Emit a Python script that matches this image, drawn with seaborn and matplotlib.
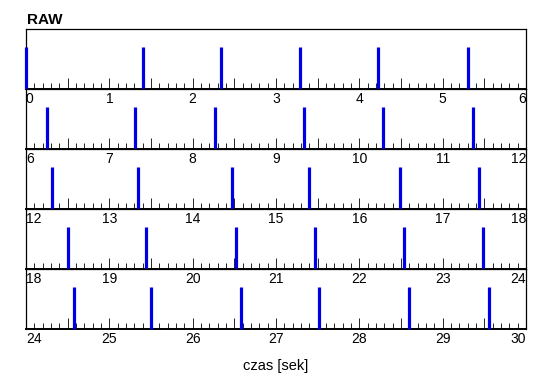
import matplotlib
matplotlib.use("Agg")
import matplotlib.pyplot as plt
import seaborn as sns
import numpy as np
from matplotlib.ticker import MultipleLocator

# event times (seconds), one list per 6-second row
row1 = [0.0, 1.40, 2.34, 3.29, 4.22, 5.31]
row2 = [6.25, 7.31, 8.27, 9.33, 10.28, 11.37]
row3 = [12.31, 13.34, 14.47, 15.40, 16.49, 17.43]
row4 = [18.50, 19.44, 20.52, 21.47, 22.54, 23.49]
row5 = [24.57, 25.50, 26.58, 27.52, 28.60, 29.55]
rows = [row1, row2, row3, row4, row5]
row_starts = [0, 6, 12, 18, 24]
row_span = 6

title = "RAW"
xlabel = "czas [sek]"

sns.set_theme(style="ticks")
plt.rcParams["font.family"] = ["Liberation Sans", "DejaVu Sans"]
plt.rcParams["text.color"] = "black"
plt.rcParams["xtick.color"] = "black"
plt.rcParams["xtick.labelcolor"] = "black"

W, H = 550, 389
fig = plt.figure(figsize=(W / 100, H / 100), dpi=100, facecolor="white")

left_px, right_px = 26, 526
top_px, panel_h = 29, 60

for i, (times, start) in enumerate(zip(rows, row_starts)):
    top = top_px + panel_h * i
    ax = fig.add_axes([left_px / W, 1 - (top + panel_h) / H,
                       (right_px - left_px) / W, panel_h / H])
    ax.patch.set_alpha(0)
    sns.rugplot(x=times, height=0.7, linewidth=2.3, color="#0000e8", ax=ax,
                expand_margins=False, clip_on=False, zorder=3)
    ax.set_xlim(start, start + row_span)
    ax.set_ylim(0, 1)
    ax.set_yticks([])
    ax.xaxis.set_minor_locator(MultipleLocator(0.1))
    ticks = np.arange(start, start + row_span + 0.01, 0.5)
    ax.set_xticks(ticks)
    ax.set_xticklabels([f"{t:g}" if t == int(t) else "" for t in ticks],
                       fontsize=10)
    ax.tick_params(axis="x", which="major", direction="in", length=8,
                   width=0.6, pad=2, colors="black")
    ax.tick_params(axis="x", which="minor", direction="in", length=4,
                   width=0.6, colors="black")
    labels = ax.get_xticklabels()
    labels[0].set_ha("left")
    labels[-1].set_ha("right")
    for s in ax.spines.values():
        s.set_linewidth(0.9)
        s.set_color("black")
    ax.spines["bottom"].set_linewidth(1.4)

fig.text(27 / W, 1 - 20 / H, title, fontsize=11, fontweight="bold",
         ha="left", va="center", color="black")
fig.text(276 / W, 1 - 366 / H, xlabel, fontsize=10.5, ha="center",
         va="center", color="black")

fig.savefig("out.png", dpi=100)
